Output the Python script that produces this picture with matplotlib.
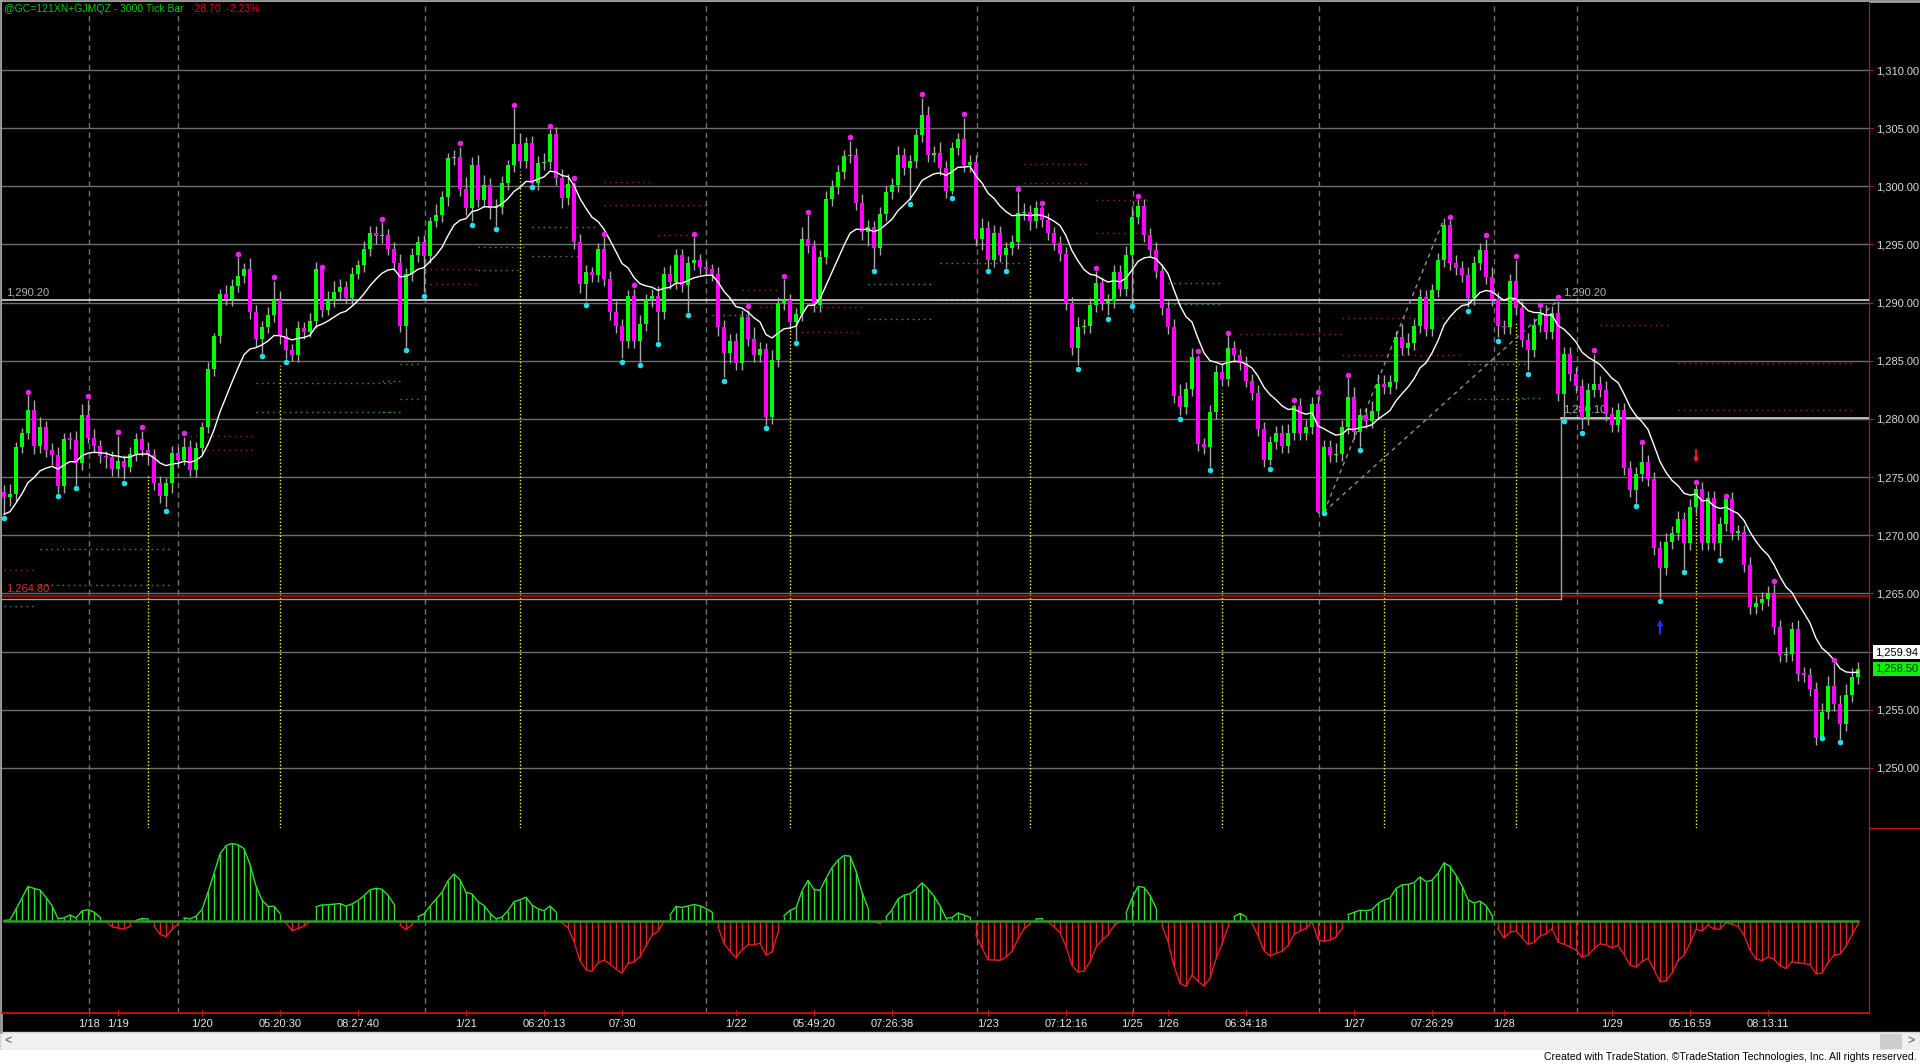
import numpy as np
import matplotlib.pyplot as plt
from matplotlib.transforms import blended_transform_factory as blend
from matplotlib.patches import Rectangle

plt.rcParams['font.family'] = ['Liberation Sans', 'DejaVu Sans']

W, H = 1920, 1064

# ---- price data (3000 tick bars) ----
open_first = 1273.7
closes = [
    1273.3, 1273.5, 1277.6, 1278.75, 1280.76, 1277.7, 1279.3, 1277.3, 1276.9, 1274.2,
    1278.3, 1278.2, 1276.2, 1280.3, 1278.4, 1277.7, 1276.8, 1276.7, 1275.7, 1276.4,
    1275.9, 1277.0, 1278.3, 1277.3, 1276.9, 1274.5, 1273.4, 1274.5, 1277.1, 1276.5,
    1277.6, 1275.6, 1277.5, 1279.3, 1284.3, 1287.1, 1290.7, 1290.3, 1291.4, 1292.3,
    1292.9, 1289.2, 1286.9, 1287.9, 1288.9, 1290.2, 1287.1, 1285.9, 1285.5, 1287.8,
    1287.5, 1288.4, 1292.9, 1289.4, 1290.2, 1290.9, 1291.3, 1290.4, 1292.5, 1293.2,
    1294.6, 1296.0, 1295.7, 1295.8, 1294.6, 1293.4, 1287.95, 1292.5, 1294.1, 1295.2,
    1294.0, 1297.0, 1297.5, 1299.1, 1302.4, 1302.5, 1299.8, 1298.1, 1301.8, 1298.8,
    1300.1, 1298.1, 1298.2, 1300.3, 1301.8, 1303.6, 1302.2, 1303.7, 1300.3, 1302.0,
    1302.1, 1304.5, 1300.7, 1299.0, 1300.2, 1295.2, 1291.6, 1292.6, 1292.4, 1294.6,
    1292.0, 1289.2, 1288.0, 1286.7, 1290.6, 1286.7, 1288.2, 1290.2, 1290.6, 1289.2,
    1292.5, 1291.8, 1294.1, 1291.5, 1293.4, 1293.7, 1293.1, 1292.9, 1292.5, 1287.9,
    1285.7, 1286.7, 1284.8, 1288.8, 1286.9, 1285.5, 1286.0, 1280.2, 1285.1, 1290.0,
    1290.2, 1288.3, 1289.0, 1295.5, 1294.9, 1289.8, 1293.9, 1298.9, 1299.9, 1301.2,
    1302.6, 1302.7, 1298.6, 1296.1, 1296.5, 1294.7, 1297.6, 1299.5, 1300.1, 1302.7,
    1301.6, 1302.2, 1304.4, 1306.1, 1302.7, 1302.9, 1301.6, 1299.6, 1303.3, 1304.1,
    1301.8, 1302.1, 1295.5, 1296.4, 1293.7, 1296.0, 1294.1, 1294.7, 1295.2, 1297.7,
    1297.8, 1297.0, 1298.1, 1297.1, 1296.0, 1295.1, 1294.2, 1290.0, 1286.1, 1287.9,
    1288.0, 1289.8, 1291.7, 1290.0, 1290.1, 1292.6, 1291.2, 1294.1, 1297.4, 1298.3,
    1295.8, 1294.5, 1292.7, 1289.5, 1287.9, 1282.0, 1281.0, 1282.6, 1285.3, 1277.8,
    1277.6, 1280.6, 1284.0, 1283.4, 1286.1, 1285.5, 1284.8, 1283.3, 1282.2, 1279.1,
    1276.5, 1278.0, 1278.8, 1277.7, 1278.8, 1281.1, 1278.8, 1279.3, 1281.3, 1272.0,
    1277.6, 1276.9, 1277.0, 1279.3, 1281.9, 1278.9, 1280.3, 1279.8, 1280.7, 1283.0,
    1282.7, 1283.2, 1287.0, 1286.1, 1286.5, 1288.0, 1290.5, 1287.7, 1291.1, 1293.7,
    1296.7, 1293.4, 1293.0, 1292.4, 1290.4, 1293.4, 1294.5, 1292.2, 1290.3, 1288.0,
    1287.9, 1291.9, 1289.5, 1286.8, 1285.9, 1288.1, 1289.0, 1287.5, 1289.1, 1282.1,
    1285.6, 1283.9, 1282.8, 1280.1, 1282.5, 1283.0, 1282.5, 1280.4, 1279.5, 1280.8,
    1275.8, 1273.9, 1275.3, 1276.3, 1274.8, 1268.9, 1267.2, 1269.4, 1270.2, 1271.4,
    1269.3, 1272.4, 1274.0, 1269.3, 1273.2, 1269.3, 1271.0, 1273.1, 1270.2, 1270.3,
    1267.4, 1263.8, 1264.2, 1264.5, 1265.0, 1262.1, 1259.7, 1259.8, 1261.9, 1258.1,
    1258.0, 1256.8, 1252.6, 1254.8, 1257.0, 1255.5, 1253.8, 1256.3, 1257.8, 1258.5,
]
up_wick = [
    0.6, 0.9, 0.4, 0.5, 0.6, 0.9, 0.9, 0.5, 0.6, 0.7,
    0.5, 0.6, 0.8, 1.0, 0.6, 0.7, 0.5, 0.4, 0.5, 0.6,
    0.5, 0.6, 0.5, 0.6, 0.7, 0.5, 0.6, 0.4, 0.6, 0.5,
    0.5, 0.6, 0.5, 0.4, 0.6, 0.3, 0.5, 0.8, 0.6, 0.6,
    0.5, 0.9, 0.6, 0.5, 0.7, 0.6, 0.8, 0.7, 0.5, 0.6,
    0.5, 0.7, 0.6, 0.5, 0.8, 1.0, 0.7, 0.6, 0.6, 0.5,
    0.7, 0.6, 0.6, 0.5, 0.5, 0.6, 0.8, 0.5, 0.6, 0.5,
    0.6, 0.4, 1.0, 0.5, 0.5, 0.6, 0.6, 1.0, 0.7, 0.9,
    0.9, 0.6, 0.7, 0.6, 0.5, 0.6, 1.0, 0.5, 0.6, 0.6,
    0.8, 0.5, 0.6, 0.8, 0.9, 0.6, 0.7, 0.6, 0.5, 0.5,
    0.6, 0.7, 0.9, 0.6, 0.5, 0.6, 0.7, 0.5, 0.6, 0.8,
    0.6, 0.7, 0.5, 0.5, 0.6, 0.6, 0.5, 0.5, 0.4, 0.6,
    0.6, 0.6, 0.7, 0.6, 0.6, 1.0, 0.6, 0.5, 0.8, 0.5,
    0.6, 0.5, 0.5, 1.0, 0.6, 0.5, 0.6, 0.7, 0.6, 0.6,
    0.5, 0.6, 0.6, 0.7, 0.6, 0.5, 0.6, 0.5, 0.6, 0.8,
    0.6, 0.5, 0.5, 0.6, 0.8, 0.6, 0.9, 0.6, 0.5, 0.5,
    0.6, 0.6, 0.6, 0.9, 0.6, 0.7, 0.6, 0.5, 0.6, 0.6,
    0.8, 0.6, 0.6, 0.5, 0.6, 0.5, 0.6, 0.6, 0.5, 0.9,
    0.6, 0.6, 0.6, 0.5, 0.6, 0.6, 0.6, 0.8, 0.9, 0.6,
    0.6, 0.6, 0.7, 0.6, 0.6, 0.7, 1.0, 0.6, 0.8, 0.6,
    0.6, 0.6, 0.6, 0.8, 0.5, 0.6, 0.5, 0.6, 0.6, 0.7,
    0.6, 0.5, 0.6, 0.7, 0.8, 0.5, 0.7, 0.6, 0.6, 0.6,
    0.6, 0.6, 0.9, 0.6, 0.5, 0.8, 0.6, 0.6, 0.8, 0.9,
    0.8, 0.6, 0.6, 1.2, 0.9, 0.6, 0.7, 0.6, 0.5, 0.6,
    0.6, 0.6, 0.7, 0.6, 0.7, 0.6, 0.6, 0.6, 0.9, 0.6,
    0.5, 0.6, 0.6, 0.6, 0.6, 0.6, 0.5, 0.8, 0.6, 0.5,
    0.6, 0.6, 0.6, 0.6, 0.6, 0.5, 0.7, 0.8, 0.6, 0.6,
    0.6, 0.6, 0.6, 0.5, 0.6, 0.6, 0.6, 0.8, 0.6, 0.7,
    0.6, 0.7, 0.5, 0.6, 0.6, 0.6, 0.6, 0.5, 0.6, 0.6,
    0.6, 0.7, 0.6, 0.6, 0.6, 0.5, 0.6, 0.6, 0.6, 0.8,
    0.6, 0.6, 0.6, 0.8, 0.9, 0.5, 0.8, 0.9, 0.8, 0.6,
]
dn_wick = [
    0.5, 0.8, 0.6, 0.5, 0.5, 0.7, 0.6, 0.6, 0.9, 0.6,
    0.6, 0.8, 0.6, 0.6, 0.5, 0.6, 0.6, 0.9, 0.6, 0.7,
    0.6, 0.5, 0.6, 0.5, 0.9, 0.6, 0.6, 0.6, 0.9, 0.6,
    0.5, 0.5, 0.6, 0.6, 0.5, 0.6, 0.6, 0.5, 0.6, 0.5,
    0.6, 0.6, 0.7, 0.6, 0.5, 0.6, 0.7, 0.6, 0.5, 0.6,
    0.6, 0.5, 0.6, 0.6, 0.5, 0.6, 0.6, 0.4, 0.5, 0.5,
    0.6, 0.6, 0.7, 0.6, 0.5, 0.6, 0.5, 0.5, 0.6, 0.6,
    0.6, 0.6, 0.5, 0.6, 0.8, 0.6, 0.6, 0.6, 0.5, 0.6,
    0.6, 0.9, 0.5, 0.6, 0.6, 0.6, 0.6, 0.6, 0.6, 0.6,
    0.6, 0.6, 0.6, 0.9, 0.6, 0.6, 0.8, 0.6, 0.6, 0.6,
    0.6, 0.7, 0.6, 0.6, 0.6, 0.6, 0.6, 0.6, 0.6, 0.6,
    0.6, 0.6, 0.6, 0.6, 0.6, 0.6, 0.6, 0.6, 0.6, 0.8,
    0.6, 0.9, 0.6, 0.6, 0.6, 0.6, 0.6, 0.6, 0.6, 0.6,
    0.6, 0.6, 0.6, 0.6, 0.6, 0.6, 0.6, 0.6, 0.6, 0.6,
    0.6, 0.6, 0.6, 0.7, 1.2, 0.6, 0.6, 0.6, 0.6, 0.6,
    0.6, 0.6, 0.6, 0.6, 0.6, 0.6, 0.6, 0.6, 0.6, 0.6,
    0.6, 0.6, 0.6, 1.0, 0.6, 0.6, 0.6, 0.6, 0.6, 0.6,
    0.6, 0.8, 0.6, 0.6, 0.6, 0.6, 0.6, 0.6, 0.6, 0.6,
    0.6, 0.6, 0.6, 0.6, 0.6, 0.6, 0.6, 0.6, 0.6, 0.6,
    0.6, 0.6, 0.6, 0.6, 0.6, 0.6, 0.6, 0.6, 0.6, 0.6,
    0.6, 0.6, 0.6, 0.6, 0.6, 0.6, 0.6, 0.6, 0.6, 0.6,
    0.6, 0.6, 0.6, 0.6, 0.6, 0.6, 0.6, 0.6, 0.6, 0.1,
    0.6, 0.6, 0.6, 0.6, 0.6, 0.6, 0.6, 0.6, 0.6, 0.6,
    0.6, 0.6, 0.6, 0.6, 0.6, 0.6, 0.6, 0.6, 0.6, 0.6,
    0.6, 0.6, 0.6, 0.6, 0.6, 0.6, 0.6, 0.6, 0.6, 0.6,
    0.6, 0.6, 0.6, 0.6, 0.6, 0.6, 0.6, 0.6, 0.6, 0.6,
    0.6, 0.6, 0.6, 0.6, 0.6, 0.6, 0.6, 0.6, 0.6, 0.6,
    0.6, 0.6, 0.6, 0.6, 0.6, 0.6, 0.6, 0.6, 0.6, 0.6,
    0.6, 0.6, 0.6, 0.6, 0.6, 0.6, 0.6, 0.6, 0.6, 0.6,
    0.6, 0.6, 0.6, 0.6, 0.6, 0.6, 0.6, 0.6, 0.6, 0.6,
    0.6, 0.6, 0.6, 0.6, 0.6, 0.6, 0.6, 0.6, 0.6, 0.6,
]

# swing dots (magenta above highs, cyan below lows)
swing_high_bars = [4, 14, 19, 23, 30, 39, 45, 53, 63, 76, 85, 91, 95, 100, 105, 115, 124,
                   130, 134, 141, 153, 160, 169, 173, 182, 189, 199, 204, 215, 219, 224,
                   241, 247, 252, 256, 259, 265, 273, 282, 287, 295, 305]
swing_high_dots = [1282.33, 1281.96, 1278.84, 1279.27, 1278.75, 1294.2, 1292.2, 1293.1, 1297.2,
                   1303.7, 1307.0, 1305.2, 1300.7, 1295.9, 1291.5, 1295.9, 1289.7, 1292.3,
                   1297.8, 1304.2, 1307.9, 1306.2, 1299.8, 1298.6, 1293.0, 1299.2, 1285.8,
                   1287.4, 1281.6, 1282.3, 1283.8, 1297.4, 1295.8, 1294.0, 1289.8, 1290.45,
                   1285.9, 1278.05, 1274.6, 1273.4, 1266.1, 1259.3]
swing_low_bars = [0, 9, 12, 20, 27, 43, 47, 67, 70, 78, 82, 88, 97, 103, 106, 109, 114, 120,
                  127, 132, 145, 151, 158, 164, 167, 179, 184, 188, 196, 201, 211, 220, 226,
                  244, 249, 254, 260, 263, 272, 276, 280, 286, 303, 306]
swing_low_dots = [1271.5, 1273.37, 1274.03, 1274.5, 1272.1, 1285.4, 1284.86, 1285.9, 1290.6,
                  1296.7, 1296.3, 1299.9, 1289.8, 1284.9, 1284.6, 1286.4, 1288.9, 1283.3,
                  1279.2, 1286.5, 1292.7, 1298.5, 1299.0, 1292.7, 1292.7, 1284.3, 1288.6,
                  1289.7, 1280.0, 1275.6, 1275.7, 1271.9, 1277.3, 1289.3, 1286.7, 1283.9,
                  1279.8, 1278.8, 1272.5, 1264.3, 1266.8, 1267.9, 1252.55, 1252.2]

# time axis
date_labels = ['1/18', '1/19', '1/20', '05:20:30', '08:27:40', '1/21', '06:20:13', '07:30',
               '1/22', '05:49:20', '07:26:38', '1/23', '07:12:16', '1/25', '1/26', '06:34:18',
               '1/27', '07:26:29', '1/28', '1/29', '05:16:59', '08:13:11']
date_bars = [14.2, 19, 33, 46, 59, 77, 90, 103, 122, 135, 148, 164, 177, 188, 194, 207,
             225, 238, 250, 268, 281, 294]
session_bars = [14.2, 29, 70.2, 117, 162.2, 188.2, 219.2, 248.3, 262.2]

# yellow markers (bar, top price)
yellow_bars = [24, 46, 86, 131, 171, 203, 230, 252, 282]
yellow_tops = [1275.3, 1284.6, 1301.3, 1287.8, 1295.0, 1282.5, 1279.2, 1288.3, 1274.1]

# dotted pivot segments: (first bar, last bar, price, colour)
pivot_lines = [
    (0, 5, 1267.0, 'r'), (6, 28, 1268.8, 'g'), (6, 28, 1265.7, 'g'), (0, 5, 1263.9, 'g'),
    (42, 65, 1283.1, 'g'), (42, 65, 1280.6, 'g'), (31, 42, 1278.5, 'r'), (31, 42, 1277.3, 'r'),
    (63, 66, 1283.3, 'g'), (66, 69, 1284.7, 'g'), (66, 69, 1281.7, 'g'), (63, 66, 1280.6, 'g'),
    (71, 79, 1292.9, 'r'), (71, 79, 1291.6, 'r'), (79, 87, 1294.8, 'g'), (79, 87, 1292.8, 'g'),
    (88, 99, 1296.5, 'g'), (88, 96, 1294.0, 'g'), (100, 108, 1300.4, 'r'), (100, 117, 1298.4, 'r'),
    (109, 116, 1295.8, 'r'), (118, 124, 1290.3, 'g'), (118, 124, 1288.9, 'g'),
    (123, 129, 1291.1, 'r'), (126, 143, 1289.6, 'r'), (131, 143, 1287.5, 'r'),
    (144, 155, 1291.6, 'g'), (144, 155, 1288.6, 'g'), (156, 170, 1293.4, 'g'), (156, 170, 1290.2, 'g'),
    (170, 181, 1301.9, 'r'), (170, 181, 1300.3, 'r'), (182, 191, 1298.8, 'r'), (182, 191, 1296.0, 'r'),
    (194, 203, 1291.7, 'g'), (194, 203, 1289.9, 'g'), (206, 223, 1287.3, 'r'),
    (223, 243, 1288.7, 'r'), (223, 243, 1285.5, 'r'), (244, 254, 1284.7, 'g'),
    (244, 254, 1281.7, 'g'), (252, 256, 1281.8, 'g'), (266, 278, 1288.1, 'r'),
    (279, 308, 1284.8, 'r'), (279, 308, 1280.8, 'r'),
]

price_ticks = [1250, 1255, 1260, 1265, 1270, 1275, 1280, 1285, 1290, 1295, 1300, 1305, 1310]
level_hi = 1290.20
level_mid = 1280.10
level_lo = 1264.80
last_ma = 1259.94
last_price = 1258.50

# ---- derived values ----
c = np.array(closes)
o = np.r_[open_first, c[:-1]]
n = len(c)
x = np.arange(n)
top = np.maximum(o, c)
bot = np.minimum(o, c)
hi = top + np.array(up_wick)
lo = bot - np.array(dn_wick)
for b, d in zip(swing_high_bars, swing_high_dots):
    hi[b] = max(top[b], d - 0.3)
for b, d in zip(swing_low_bars, swing_low_dots):
    lo[b] = min(bot[b], d + 0.3)


def ema(v, span, seed=None):
    a = 2 / (span + 1)
    out = np.zeros(len(v))
    out[0] = v[0] if seed is None else seed
    for i in range(1, len(v)):
        out[i] = out[i-1] + a * (v[i] - out[i-1])
    return out


# moving average on the price panel
ma = ema(c, 14, seed=lo[0])

# oscillator: smoothed fast/slow average spread
osc = ema(ema(c, 3) - ema(c, 9), 3)

# ---- figure ----
fig = plt.figure(figsize=(W / 100, H / 100), dpi=100, facecolor='black')


def px(x0, y0, x1, y1):
    return [x0 / W, 1 - y1 / H, (x1 - x0) / W, (y1 - y0) / H]


ov = fig.add_axes([0, 0, 1, 1], zorder=0)
ov.set_xlim(0, W)
ov.set_ylim(H, 0)
ov.axis('off')
ov.add_patch(Rectangle((0, 1032), W, 18, fc='#f0f0f0', ec='#d4d4d4', lw=1))
ov.add_patch(Rectangle((0, 1050), W, 14, fc='white', ec='none'))
ov.add_patch(Rectangle((1880, 1034), 22, 15, fc='#cdcdcd', ec='none'))
ov.text(8, 1041, '<', color='#505050', fontsize=9, va='center', ha='center')
ov.text(1911, 1041, '>', color='#505050', fontsize=9, va='center', ha='center')
ov.text(1917, 1057.5, 'Created with TradeStation. \u00a9TradeStation Technologies, Inc. All rights reserved.',
        color='black', fontsize=7.6, ha='right', va='center')
ov.plot([0, W], [0.5, 0.5], color='#a0a0a0', lw=2)
ov.plot([0.5, 0.5], [0, 1032], color='#a0a0a0', lw=2)
ov.plot([1869, W], [828, 828], color='#d01010', lw=1)

xmin, xmax = (2 - 4) / 6, (1869 - 4) / 6
ylo, yhi = 1310 - 758 / 11.63, 1310 + 68 / 11.63

ax = fig.add_axes(px(2, 2, 1869, 828), zorder=2)
ax.set_facecolor('black')
ax.set_xlim(xmin, xmax)
ax.set_ylim(ylo, yhi)
for s in ['top', 'left', 'bottom']:
    ax.spines[s].set_visible(False)
ax.spines['right'].set_color('#d01010')
ax.set_xticks([])
ax.yaxis.tick_right()
ax.set_yticks(price_ticks)
ax.set_yticklabels(['{:,.2f}'.format(p) for p in price_ticks])
ax.tick_params(axis='y', colors='#d01010', labelcolor='#d8d8d8', length=3, pad=2, labelsize=8)
ax.grid(axis='y', color='#6e6e6e', lw=1)
ax.set_axisbelow(True)

# day separators
for b in session_bars:
    ax.axvline(b, color='#707070', lw=1, ls=(0, (4, 3)), zorder=1)

# yellow markers
ax.vlines(yellow_bars, ylo, yellow_tops, colors='#ffff30', lw=1, linestyles=(0, (1, 1.5)), zorder=1)

# dotted pivot segments
for b0, b1, p, col in pivot_lines:
    ax.plot([b0, b1], [p, p], color='#b02020' if col == 'r' else '#2fa82f',
            lw=1, ls=(0, (1, 3)), zorder=1)

# levels
ax.axhline(level_hi, color='#d8d8d8', lw=1.2, zorder=1)
ax.axhline(level_lo, color='#c00000', lw=1.2, zorder=1)
ax.plot([xmin, 259.5], [level_lo - 0.25, level_lo - 0.25], color='#a0a0a0', lw=1, zorder=1)
ax.plot([259.5, 259.5], [level_lo - 0.25, level_mid], color='#a0a0a0', lw=1, zorder=1)
ax.plot([259.5, xmax], [level_mid, level_mid], color='#d8d8d8', lw=1.2, zorder=1)
ax.text(0.3, level_hi + 0.25, '1,290.20', color='#b0b0b0', fontsize=8, va='bottom')
ax.text(259.9, level_hi + 0.25, '1,290.20', color='#b0b0b0', fontsize=8, va='bottom')
ax.text(259.9, level_mid + 0.25, '1,280.10', color='#b0b0b0', fontsize=8, va='bottom')
ax.text(0.3, level_lo + 0.2, '1,264.80', color='#e03030', fontsize=8, va='bottom')

# trend lines
ax.plot([220, 240], [1272.0, 1297.2], color='#909090', lw=1, ls=(0, (3, 3)), zorder=2)
ax.plot([220, 259], [1272.0, 1290.2], color='#909090', lw=1, ls=(0, (3, 3)), zorder=2)

# candles
up = c >= o
colors = np.where(up, '#00ff00', '#ff00ff')
ax.vlines(x, lo, hi, colors='#a8a8a8', lw=1, zorder=3)
ax.bar(x, np.maximum(top - bot, 0.12), bottom=bot, width=0.72, color=colors, lw=0, zorder=4)

# average
ax.plot(x, ma, color='white', lw=1, zorder=5)

# swing dots
ax.scatter(swing_high_bars, swing_high_dots, s=16, color='#ee22ee', zorder=6, lw=0)
ax.scatter(swing_low_bars, swing_low_dots, s=16, color='#22ddf0', zorder=6, lw=0)

# signal arrows
ax.annotate('', xy=(282, 1276.0), xytext=(282, 1277.6),
            arrowprops=dict(arrowstyle='-|>', color='#ff2020', lw=1.2, mutation_scale=6))
ax.annotate('', xy=(276, 1263.0), xytext=(276, 1261.3),
            arrowprops=dict(arrowstyle='-|>', color='#2030ff', lw=1.5, mutation_scale=7))

# price tags on the axis
tr = blend(ax.transAxes, ax.transData)
ax.text(1.0035, last_ma, '{:,.2f}'.format(last_ma), transform=tr, fontsize=8, color='black',
        va='center', ha='left', clip_on=False,
        bbox=dict(boxstyle='square,pad=0.2', fc='white', ec='none'))
ax.text(1.0035, last_price, '{:,.2f}'.format(last_price), transform=tr, fontsize=8, color='#003000',
        va='center', ha='left', clip_on=False,
        bbox=dict(boxstyle='square,pad=0.2', fc='#10ee10', ec='none'))

# title (figure level, above the panels)
t1 = fig.text(4 / W, 1 - 9 / H, '@GC=121XN+GJMQZ - 3000 Tick Bar', color='#00c800', fontsize=7.5,
              va='center', zorder=10)
fig.add_artist(plt.Annotation('-28.70  -2.23%', xy=(1, 0.5), xycoords=t1, xytext=(5, 0),
                              textcoords='offset points', color='#e00000', fontsize=7.5,
                              va='center', ha='left', zorder=10))

# ---- oscillator panel ----
ax2 = fig.add_axes(px(2, 828, 1869, 1013), zorder=2)
ax2.set_facecolor('black')
ax2.set_xlim(xmin, xmax)
m = np.abs(osc).max() * 1.2
ax2.set_ylim(-m, m)
for s in ['top', 'left']:
    ax2.spines[s].set_visible(False)
ax2.spines['right'].set_color('#d01010')
ax2.spines['bottom'].set_color('#d01010')
ax2.spines['bottom'].set_linewidth(1.3)
ax2.set_yticks([])
ax2.set_xticks(date_bars)
ax2.set_xticklabels(date_labels)
ax2.tick_params(axis='x', colors='#d01010', labelcolor='#e8e8e8', length=4, direction='inout',
                pad=2, labelsize=8)

for b in session_bars:
    ax2.axvline(b, color='#707070', lw=1, ls=(0, (4, 3)), zorder=1)

pos = osc >= 0
ax2.vlines(x[pos], 0, osc[pos], colors='#30e030', lw=1, zorder=3)
ax2.vlines(x[~pos], 0, osc[~pos], colors='#e02020', lw=1, zorder=3)
ax2.plot(x, np.where(pos, osc, np.nan), color='#30e030', lw=1, zorder=3)
ax2.plot(x, np.where(~pos, osc, np.nan), color='#e02020', lw=1, zorder=3)
ax2.plot([0, n - 1], [0, 0], color='#2f9a2f', lw=1.8, zorder=4)

fig.savefig('out.png', dpi=100, facecolor='black')
